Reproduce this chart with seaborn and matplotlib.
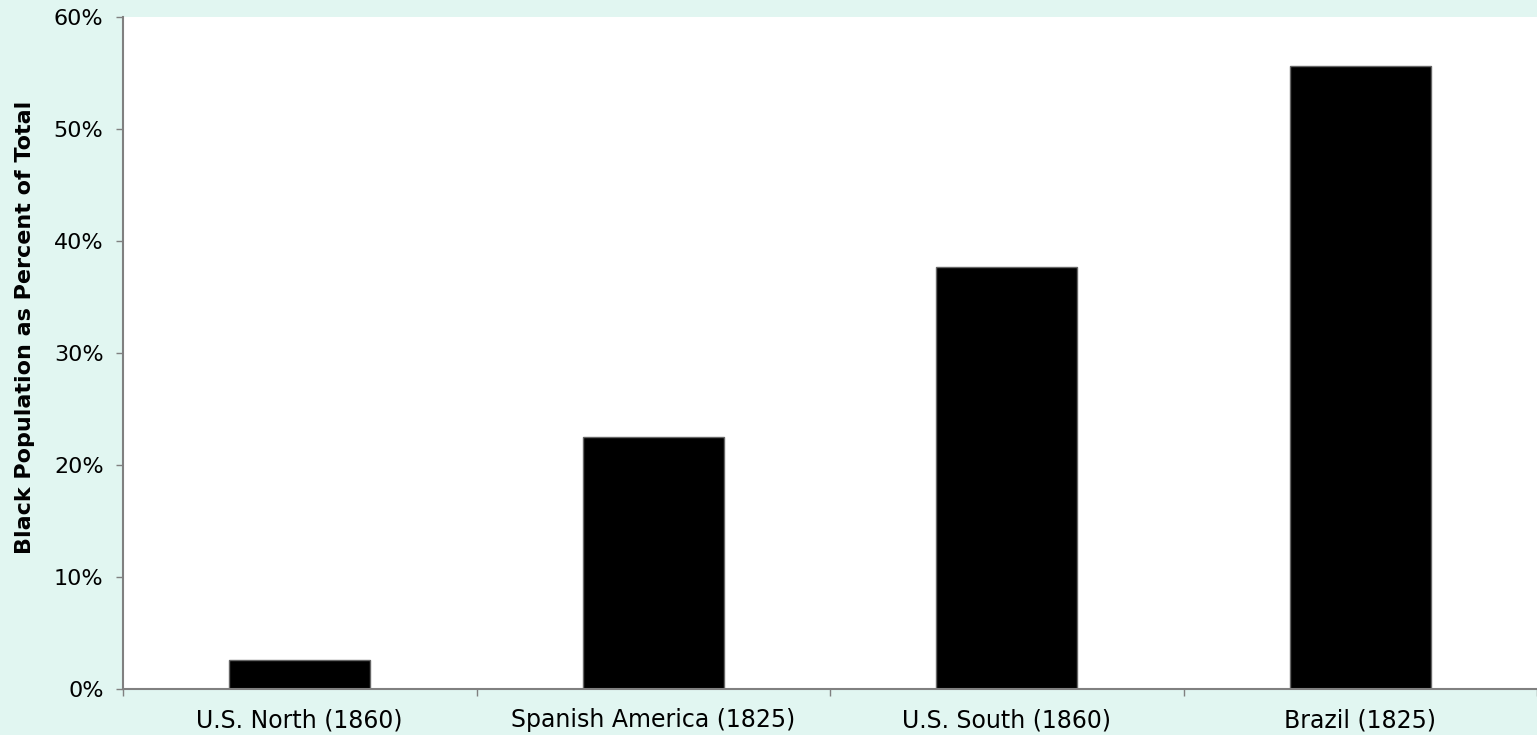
import matplotlib
matplotlib.use("Agg")
import matplotlib.pyplot as plt
import seaborn as sns
import pandas as pd
import numpy as np
from matplotlib.ticker import FixedLocator, PercentFormatter

categories = ["U.S. North (1860)", "Spanish America (1825)", "U.S. South (1860)", "Brazil (1825)"]
values = [2.6, 22.5, 37.7, 55.6]
y_ticks = [0, 10, 20, 30, 40, 50, 60]

sns.set_style("white")
plt.rcParams['font.family'] = ['DejaVu Sans']
plt.rcParams['text.color'] = 'black'
plt.rcParams['axes.labelcolor'] = 'black'
plt.rcParams['xtick.color'] = 'black'
plt.rcParams['ytick.color'] = 'black'

bg = "#E1F6F1"
fig = plt.figure(figsize=(15.37, 7.35), dpi=100, facecolor=bg)
ax = fig.add_axes([123/1537, 46/735, 1 - 123/1537, (689-17)/735])
ax.set_facecolor("white")

df = pd.DataFrame({"cat": categories, "val": values})
sns.barplot(data=df, x="cat", y="val", color="black", width=0.40,
            edgecolor="#666666", linewidth=1.0, saturation=1, ax=ax)

ax.set_xlim(-0.5, len(categories) - 0.5)
ax.set_ylim(0, 60)
ax.set_yticks(y_ticks)
ax.yaxis.set_major_formatter(PercentFormatter(decimals=0))
ax.xaxis.set_minor_locator(FixedLocator(np.arange(-0.5, len(categories), 1.0)))
ax.tick_params(axis="x", which="major", length=0, pad=14, labelsize=17, labelcolor="black")
ax.tick_params(axis="x", which="minor", length=5, color="#808080", width=1, direction="out", bottom=True)
ax.tick_params(axis="y", length=5, color="#808080", width=1, direction="out", left=True,
               labelsize=16, pad=9, labelcolor="black")

for s in ["top", "right"]:
    ax.spines[s].set_visible(False)
for s in ["left", "bottom"]:
    ax.spines[s].set_color("#808080")
    ax.spines[s].set_linewidth(1.5)

ax.set_xlabel("")
ax.set_ylabel("Black Population as Percent of Total", fontsize=16, fontweight="bold",
              color="black", labelpad=12)
ax.yaxis.set_label_coords(-88/1414, 0.538)

fig.savefig("out.png", dpi=100, facecolor=bg)
